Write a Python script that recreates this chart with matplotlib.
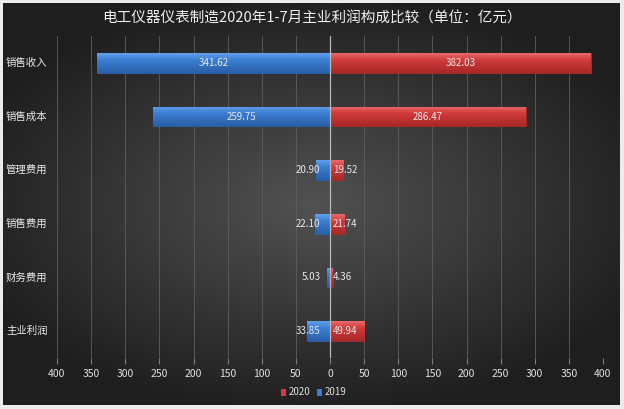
import numpy as np
import matplotlib.pyplot as plt
from matplotlib.transforms import blended_transform_factory
from matplotlib.patches import Rectangle

plt.rcParams['font.family'] = ['Noto Sans CJK SC', 'DejaVu Sans']

categories = ['销售收入', '销售成本', '管理费用', '销售费用', '财务费用', '主业利润']
v2020 = [382.03, 286.47, 19.52, 21.74, 4.36, 49.94]
v2019 = [341.62, 259.75, 20.90, 22.10, 5.03, 33.85]
ticks = [-400, -350, -300, -250, -200, -150, -100, -50, 0,
         50, 100, 150, 200, 250, 300, 350, 400]
title = '电工仪器仪表制造2020年1-7月主业利润构成比较（单位：亿元）'

W, H = 624, 409
fig = plt.figure(figsize=(W / 100, H / 100), dpi=100, facecolor='#ececec')

# dark radial background
bg = fig.add_axes([3 / W, 4 / H, 617 / W, 402 / H])
yy, xx = np.mgrid[-1:1:300j, -1:1:400j]
r = np.sqrt((xx * 0.9) ** 2 + (yy * 1.0) ** 2)
shade = np.clip(0.32 - 0.19 * r, 0.12, 0.32)
bg.imshow(np.dstack([shade, shade, shade]), aspect='auto', extent=[0, 1, 0, 1])
bg.set_axis_off()

ax = fig.add_axes([57 / W, 1 - 358 / H, 546 / W, 322 / H])
ax.patch.set_alpha(0)
ax.set_xlim(-400, 400)
ax.set_ylim(len(categories) - 0.5, -0.5)

for t in ticks:
    if t == 0:
        continue
    ax.axvline(t, color='#5e5e5e', lw=0.6, zorder=0)

bar_h = 0.37


def grad_bar(x0, width, y, base, light, dark):
    rect = Rectangle((x0, y - bar_h / 2), width, bar_h, facecolor=base,
                     edgecolor=dark, lw=0.6, zorder=2)
    ax.add_patch(rect)
    if width == 0:
        return
    g = np.linspace(0, 1, 50)[:, None]
    c0 = np.array(plt.matplotlib.colors.to_rgb(light))
    c1 = np.array(plt.matplotlib.colors.to_rgb(base))
    c2 = np.array(plt.matplotlib.colors.to_rgb(dark))
    img = np.where(g < 0.35, c0 + (c1 - c0) * (g / 0.35),
                   c1 + (c2 - c1) * ((g - 0.35) / 0.65))
    img = img.reshape(50, 1, 3)
    im = ax.imshow(img, aspect='auto', zorder=2.5,
                   extent=[min(x0, x0 + width), max(x0, x0 + width),
                           y + bar_h / 2, y - bar_h / 2])
    im.set_clip_path(rect)


for i, (a, b) in enumerate(zip(v2020, v2019)):
    grad_bar(0, a, i, '#d23b3b', '#e86a6a', '#a82828')
    grad_bar(0, -b, i, '#3b7fd2', '#62a0ea', '#2a5fa8')
    if a > 60:
        ax.text(a / 2, i, f'{a:.2f}', color='#e8e8e8', fontsize=7,
                ha='center', va='center', zorder=4)
    else:
        ax.text(4, i, f'{a:.2f}', color='#e8e8e8', fontsize=7,
                ha='left', va='center', zorder=4)
    if b > 60:
        ax.text(-b / 2, i, f'{b:.2f}', color='#e8e8e8', fontsize=7,
                ha='center', va='center', zorder=4)
    else:
        ax.text(-14, i, f'{b:.2f}', color='#e8e8e8', fontsize=7,
                ha='right', va='center', zorder=4)

ax.axvline(0, color='#b8b8b8', lw=0.9, zorder=3)

ax.set_xticks(ticks)
ax.set_xticklabels([str(abs(t)) for t in ticks], color='#e0e0e0', fontsize=7.5)
ax.tick_params(axis='x', length=4, color='#7a7a7a', pad=4)
ax.set_yticks([])
for s in ax.spines.values():
    s.set_visible(False)

trans = blended_transform_factory(fig.transFigure, ax.transData)
for i, c in enumerate(categories):
    ax.text(6 / W, i, c, transform=trans, color='#e8e8e8', fontsize=7.5,
            ha='left', va='center')

fig.text(0.5, 1 - 19 / H, title, color='#f0f0f0', fontsize=10.5,
         ha='center', va='center')

# legend
ly = 1 - 392 / H
fig.patches.append(Rectangle((281 / W, ly - 3.5 / H), 5 / W, 7 / H,
                             transform=fig.transFigure, facecolor='#d23b3b',
                             edgecolor='none'))
fig.text(289 / W, ly, '2020', color='#e0e0e0', fontsize=7, ha='left', va='center')
fig.patches.append(Rectangle((317 / W, ly - 3.5 / H), 5 / W, 7 / H,
                             transform=fig.transFigure, facecolor='#3b7fd2',
                             edgecolor='none'))
fig.text(325 / W, ly, '2019', color='#e0e0e0', fontsize=7, ha='left', va='center')

fig.savefig('out.png', dpi=100, facecolor=fig.get_facecolor())
